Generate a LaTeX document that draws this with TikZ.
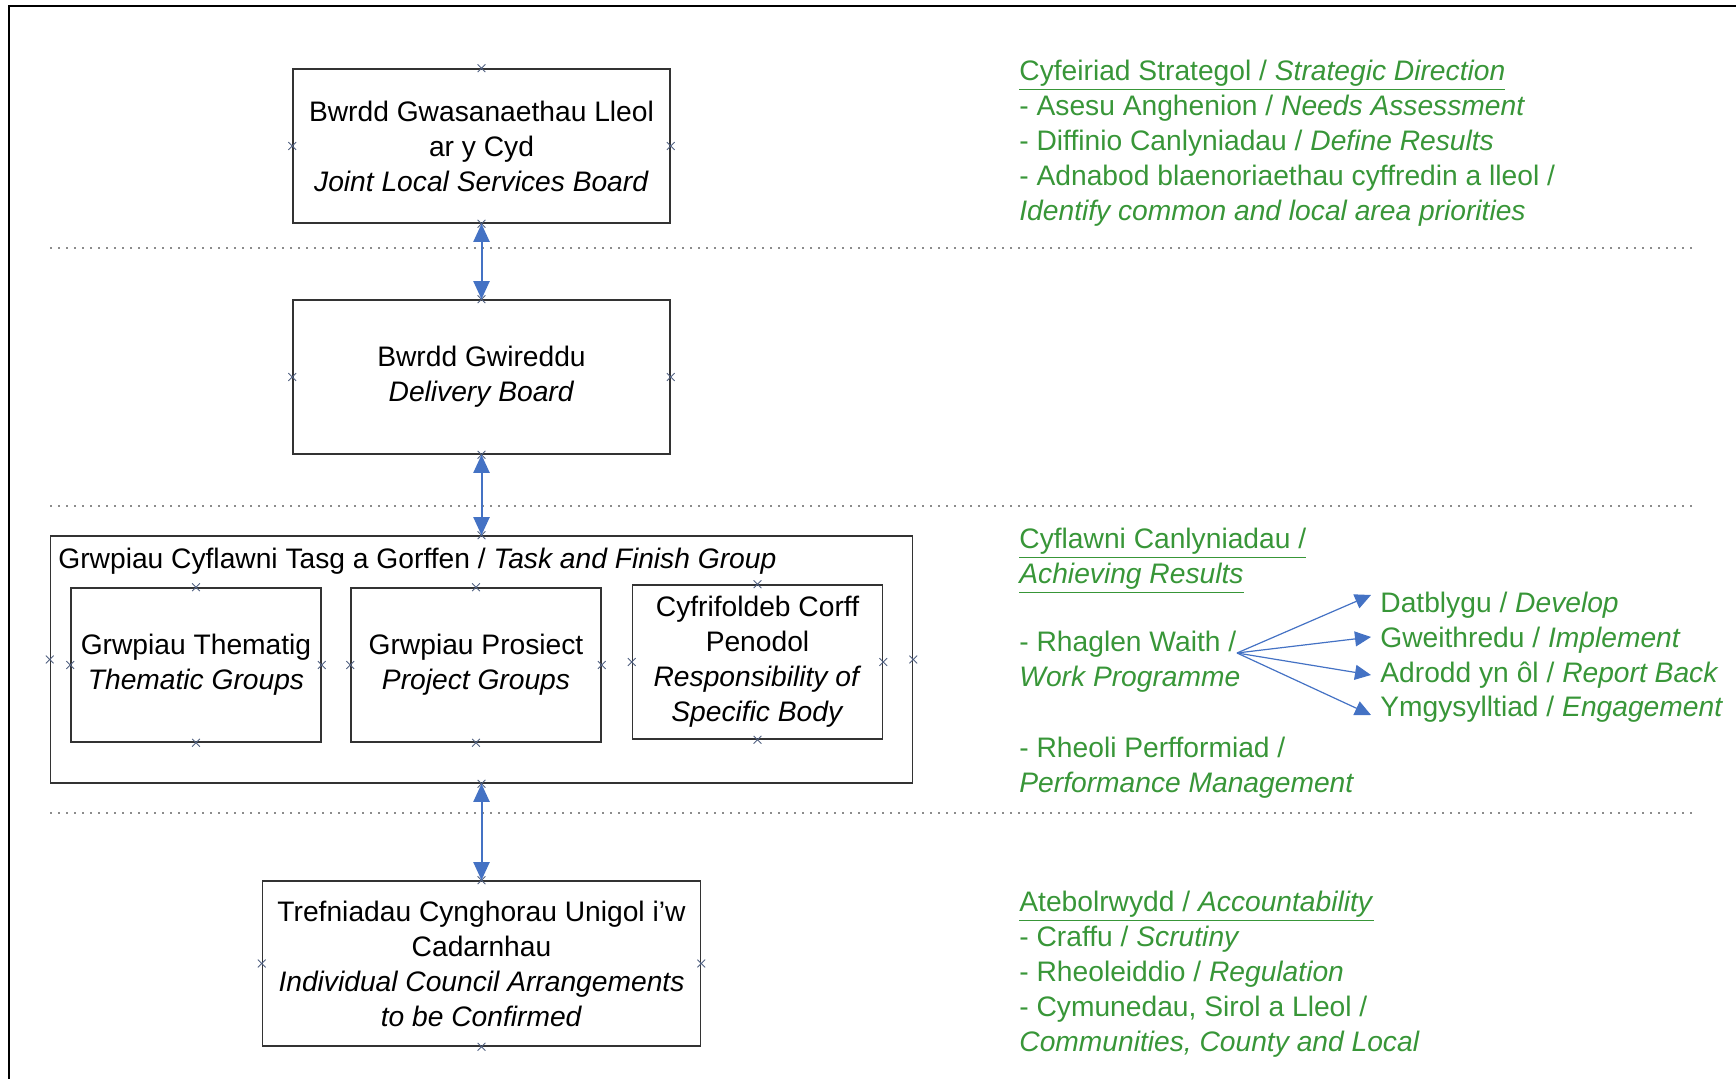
\documentclass[tikz,border=0pt]{standalone}
\usepackage{fontspec}
\setmainfont{Liberation Sans}
\usetikzlibrary{arrows.meta,positioning,shapes.misc}
\definecolor{linkblue}{RGB}{68,114,196}
\definecolor{notegreen}{RGB}{56,150,56}
\definecolor{pinblue}{RGB}{80,96,128}
\newcommand{\boxfont}{\fontsize{14.1}{17.5}\selectfont}

\begin{document}
\begin{tikzpicture}[
    x=0.5pt, y=-0.5pt,
    box/.style={rectangle, draw=black!80, line width=0.8pt, align=center, font=\boxfont, inner sep=0pt},
    note/.style={anchor=north west, align=left, inner sep=0pt, font=\boxfont, text=notegreen},
    item/.style={anchor=west, inner xsep=4.5pt, inner ysep=0pt, text height=11pt, text depth=3.5pt, font=\boxfont, text=notegreen},
    pin/.style={cross out, draw=pinblue, line width=0.4pt, minimum size=3.5pt, inner sep=0pt},
    link/.style={{Triangle[length=9pt,width=8pt]}-{Triangle[length=9pt,width=8pt]}, draw=linkblue, line width=1pt},
    fan/.style={-{Triangle[length=8pt,width=7.5pt]}, draw=linkblue, line width=0.6pt},
    sep/.style={draw=black!45, line width=0.6pt, dash pattern=on 1.2pt off 2.8pt}
]
    \useasboundingbox (0,0) rectangle (1736,1079);
    \draw[line width=1pt] (9,1079) -- (9,6) -- (1736,6);

    \node[box, minimum width=188.5pt, minimum height=77pt] (joint) at (481.5,146) {Bwrdd Gwasanaethau Lleol\\ar y Cyd\\\textit{Joint Local Services Board}};
    \node[box, minimum width=188.5pt, minimum height=77pt] (deliv) at (481.5,377) {Bwrdd Gwireddu\\\textit{Delivery Board}};
    \node[box, minimum width=431pt, minimum height=123.5pt] (task) at (481.5,659.5) {};
    \node[anchor=west, font=\boxfont, inner sep=0pt] (tasklabel) at (58,561) {Grwpiau Cyflawni Tasg a Gorffen / \textit{Task and Finish Group}};
    \node[box, minimum width=125pt, minimum height=77pt] (thema) at (196,665) {Grwpiau Thematig\\\textit{Thematic Groups}};
    \node[box, minimum width=125pt, minimum height=77pt] (proj) at (476,665) {Grwpiau Prosiect\\\textit{Project Groups}};
    \node[box, minimum width=125pt, minimum height=77pt] (body) at (757.5,662) {Cyfrifoldeb Corff\\Penodol\\\textit{Responsibility of}\\\textit{Specific Body}};
    \node[box, minimum width=219pt, minimum height=82.5pt] (council) at (481.5,963.5) {Trefniadau Cynghorau Unigol i'w\\Cadarnhau\\\textit{Individual Council Arrangements}\\\textit{to be Confirmed}};

    \foreach \n in {joint,deliv,task,thema,proj,body,council}
        \foreach \a in {north,south,east,west}
            \node[pin] at (\n.\a) {};

    \draw[sep] (50,248) -- (1697,248);
    \draw[sep] (50,506) -- (1697,506);
    \draw[sep] (50,813) -- (1697,813);

    \draw[link] (joint.south) -- (deliv.north);
    \draw[link] (deliv.south) -- (task.north);
    \draw[link] (task.south) -- (council.north);

    \node[note] (strat) at (1019,60) {\underline{Cyfeiriad Strategol / \textit{Strategic Direction}}\\- Asesu Anghenion / \textit{Needs Assessment}\\- Diffinio Canlyniadau / \textit{Define Results}\\- Adnabod blaenoriaethau cyffredin a lleol /\\\textit{Identify common and local area priorities}};
    \node[note] (achv) at (1019,528) {\underline{Cyflawni Canlyniadau /}\\\underline{\textit{Achieving Results}}};
    \node[note] (work) at (1019,631) {- Rhaglen Waith /\\\textit{Work Programme}};
    \node[note] (perf) at (1019,737) {- Rheoli Perfformiad /\\\textit{Performance Management}};
    \node[note] (acct) at (1019,891) {\underline{Atebolrwydd / \textit{Accountability}}\\- Craffu / \textit{Scrutiny}\\- Rheoleiddio / \textit{Regulation}\\- Cymunedau, Sirol a Lleol /\\\textit{Communities, County and Local}};

    \node[item] (dev) at (1371,605) {Datblygu / \textit{Develop}};
    \node[item] (impl) at (1371,640) {Gweithredu / \textit{Implement}};
    \node[item] (rep) at (1371,675) {Adrodd yn ôl / \textit{Report Back}};
    \node[item] (eng) at (1371,709) {Ymgysylltiad / \textit{Engagement}};

    \coordinate (fork) at (1237,653);
    \draw[fan] (fork) -- ([yshift=5pt]dev.west);
    \draw[fan] (fork) -- ([yshift=1.5pt]impl.west);
    \draw[fan] (fork) -- (rep.west);
    \draw[fan] (fork) -- ([yshift=-3pt]eng.west);
\end{tikzpicture}
\end{document}
